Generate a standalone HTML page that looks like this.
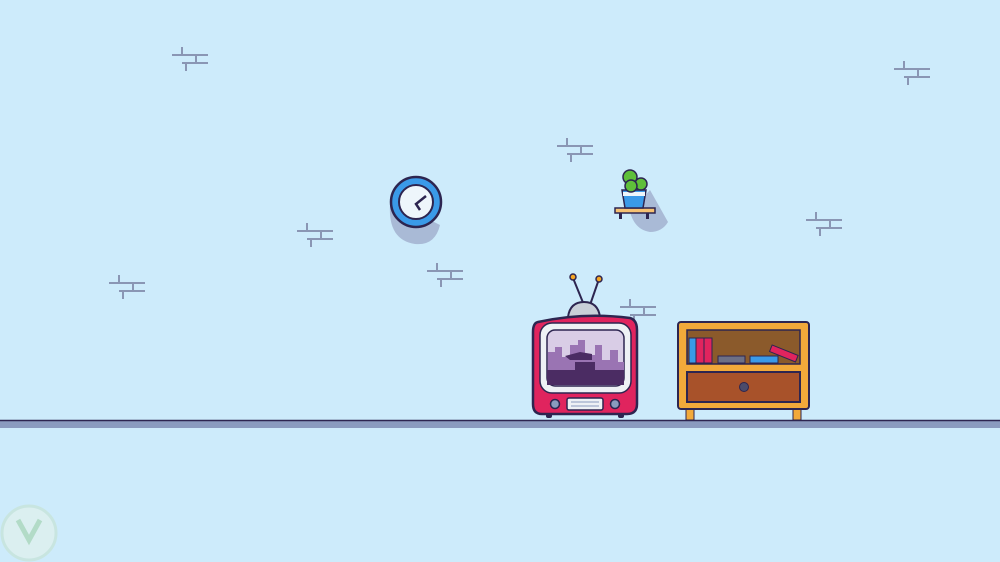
<!DOCTYPE html>
<html><head><style>html,body{margin:0;padding:0;background:#cdebfb;}svg{display:block}</style></head>
<body>
<svg width="1000" height="562" viewBox="0 0 1000 562" xmlns="http://www.w3.org/2000/svg">
<defs>
<g id="brick" stroke="#8a96b4" stroke-width="2" fill="none">
<line x1="0" y1="8" x2="36" y2="8"/><line x1="10" y1="0" x2="10" y2="8"/>
<line x1="24" y1="8" x2="24" y2="16"/><line x1="10" y1="16" x2="36" y2="16"/>
<line x1="14" y1="16" x2="14" y2="24"/>
</g>
</defs>
<rect width="1000" height="562" fill="#cdebfb"/>
<use href="#brick" x="172" y="47"/>
<use href="#brick" x="557" y="138"/>
<use href="#brick" x="894" y="61"/>
<use href="#brick" x="297" y="223"/>
<use href="#brick" x="806" y="212"/>
<use href="#brick" x="427" y="263"/>
<use href="#brick" x="109" y="275"/>
<use href="#brick" x="620" y="299"/>
<!-- floor -->
<rect x="0" y="420" width="1000" height="8" fill="#8a9bbf"/>
<line x1="0" y1="420.5" x2="1000" y2="420.5" stroke="#2d2550" stroke-width="1.5"/>
<!-- clock -->
<path d="M390 205 Q388 240 415 244 Q435 246 440 225 L420 215 Z" fill="#a9bad6"/>
<circle cx="416" cy="202" r="25" fill="#3a9ae8" stroke="#2d2550" stroke-width="2.5"/>
<circle cx="416" cy="202" r="17" fill="#eef6fb" stroke="#2d2550" stroke-width="2"/>
<path d="M426 196 L416 204 L420 210" stroke="#2d2550" stroke-width="2.5" fill="none"/>
<!-- plant shelf -->
<path d="M630 212 L650 190 L668 222 Q662 232 650 232 Q635 230 630 212Z" fill="#a9bad6"/>
<rect x="615" y="208" width="40" height="5" fill="#f6c173" stroke="#2d2550" stroke-width="1.5"/>
<rect x="619" y="213" width="3" height="6" fill="#2d2550"/><rect x="646" y="213" width="3" height="6" fill="#2d2550"/>
<path d="M622 190 L646 190 L643 208 L625 208Z" fill="#3a9ae8" stroke="#2d2550" stroke-width="1.5"/>
<rect x="623" y="192" width="22" height="4" fill="#eef6fb"/>
<circle cx="630" cy="177" r="7" fill="#5fbf3a" stroke="#2d2550" stroke-width="1.5"/>
<circle cx="641" cy="184" r="6" fill="#5fbf3a" stroke="#2d2550" stroke-width="1.5"/>
<circle cx="631" cy="186" r="6" fill="#5fbf3a" stroke="#2d2550" stroke-width="1.5"/>
<!-- TV -->
<line x1="584" y1="305" x2="573" y2="278" stroke="#2d2550" stroke-width="2"/>
<line x1="590" y1="305" x2="599" y2="279" stroke="#2d2550" stroke-width="2"/>
<circle cx="573" cy="277" r="3" fill="#f5a623" stroke="#2d2550" stroke-width="1.5"/>
<circle cx="599" cy="279" r="3" fill="#f5a623" stroke="#2d2550" stroke-width="1.5"/>
<path d="M568 317 Q570 302 584 302 Q598 302 600 317Z" fill="#c9cfd8" stroke="#2d2550" stroke-width="2"/>
<rect x="546" y="410" width="6" height="8" rx="2" fill="#2d2550"/><rect x="618" y="410" width="6" height="8" rx="2" fill="#2d2550"/>
<path d="M538 322 Q584 312 630 318 Q637 320 637 330 L637 404 Q637 414 627 414 L542 414 Q533 414 533 404 L533 332 Q533 323 538 322Z" fill="#e0245e" stroke="#2d2550" stroke-width="2.5"/>
<rect x="540" y="323" width="91" height="70" rx="12" fill="#eef1f5" stroke="#2d2550" stroke-width="1.5"/>
<rect x="547" y="330" width="77" height="56" rx="8" fill="#d9cde6" stroke="#2d2550" stroke-width="1.5"/>
<path d="M548 362 L548 352 L555 352 L555 347 L562 347 L562 357 L570 357 L570 345 L578 345 L578 340 L585 340 L585 355 L595 355 L595 345 L602 345 L602 360 L610 360 L610 350 L618 350 L618 362 L624 362 L624 380 L548 380Z" fill="#9a74b3"/>
<rect x="547" y="370" width="77" height="15" fill="#4b2c63"/>
<rect x="575" y="362" width="20" height="9" fill="#4b2c63"/>
<path d="M565 356 L580 352 L592 354 L592 360 L570 360Z" fill="#4b2c63"/>
<rect x="567" y="398" width="36" height="12" rx="2" fill="#eef1f5" stroke="#2d2550" stroke-width="1.5"/>
<line x1="571" y1="402" x2="599" y2="402" stroke="#8a9bbf"/><line x1="571" y1="406" x2="599" y2="406" stroke="#8a9bbf"/>
<circle cx="555" cy="404" r="4.5" fill="#8a9bbf" stroke="#2d2550" stroke-width="1.5"/>
<circle cx="615" cy="404" r="4.5" fill="#8a9bbf" stroke="#2d2550" stroke-width="1.5"/>
<!-- shelf -->
<rect x="686" y="408" width="8" height="12" fill="#f2a93a" stroke="#2d2550" stroke-width="1"/>
<rect x="793" y="408" width="8" height="12" fill="#f2a93a" stroke="#2d2550" stroke-width="1"/>
<rect x="678" y="322" width="131" height="87" rx="3" fill="#f2a93a" stroke="#2d2550" stroke-width="2"/>
<rect x="687" y="330" width="113" height="34" fill="#8b5a2b" stroke="#2d2550" stroke-width="1.5"/>
<rect x="689" y="338" width="7" height="25" fill="#3a9ae8" stroke="#2d2550"/><rect x="696" y="338" width="8" height="25" fill="#e0245e" stroke="#2d2550"/><rect x="704" y="338" width="8" height="25" fill="#e0245e" stroke="#2d2550"/>
<rect x="718" y="356" width="27" height="7" fill="#6d7086" stroke="#2d2550"/>
<rect x="750" y="356" width="28" height="7" fill="#3a9ae8" stroke="#2d2550"/>
<rect x="770" y="350" width="28" height="7" fill="#e0245e" stroke="#2d2550" transform="rotate(22 784 353)"/>
<rect x="687" y="372" width="113" height="30" fill="#a8522a" stroke="#2d2550" stroke-width="2"/>
<circle cx="744" cy="387" r="4.5" fill="#4b4b6b" stroke="#2d2550"/>
<!-- watermark -->
<circle cx="29" cy="533" r="27" fill="#e2f1ec" stroke="#c6e3d5" stroke-width="3" opacity="0.7"/>
<path d="M18 520 L29 540 L40 520" stroke="#a8d6bd" stroke-width="5" fill="none" opacity="0.8"/>
</svg>
</body></html>
